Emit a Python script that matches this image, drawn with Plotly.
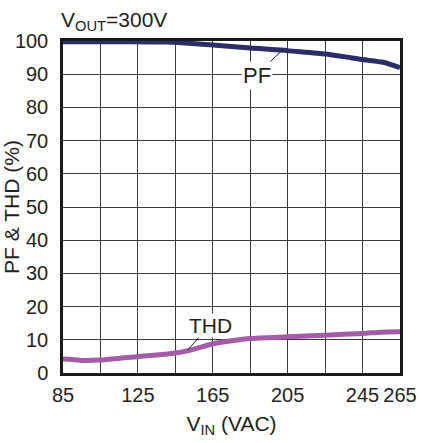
import plotly.graph_objects as go

vin_pf = [85, 100, 120, 140, 150, 165, 185, 202, 205, 225, 235, 245, 256, 265]
pf = [99.8, 99.8, 99.8, 99.7, 99.4, 98.8, 97.9, 97.3, 97.1, 96.1, 95.3, 94.4, 93.6, 92.0]

vin_thd = [85, 90, 95, 105, 115, 125, 135, 145, 150, 155, 160, 165, 175, 185, 205, 225, 245, 255, 265]
thd = [4.2, 4.1, 3.8, 3.9, 4.4, 5.0, 5.4, 6.0, 6.5, 7.2, 8.0, 8.8, 9.7, 10.4, 10.9, 11.4, 11.9, 12.3, 12.4]

x_ticks = [85, 125, 165, 205, 245, 265]
x_minor = [105, 145, 185, 225]
y_ticks = list(range(0, 101, 10))

FONT = "Liberation Sans, Arial, sans-serif"
TXT = "#231f20"
GRID = "#3a3a3a"

fig = go.Figure()
fig.add_trace(go.Scatter(x=vin_thd, y=thd, mode="lines",
                         line=dict(color="#a45ba8", width=5, shape="spline", smoothing=0.6),
                         hoverinfo="skip", showlegend=False))
fig.add_trace(go.Scatter(x=vin_pf, y=pf, mode="lines",
                         line=dict(color="#2b2d66", width=5, shape="spline", smoothing=0.6),
                         hoverinfo="skip", showlegend=False))

# leader lines
fig.add_shape(type="line", x0=192.9, y0=92.3, x1=202.5, y1=97.4, xref="x", yref="y",
              line=dict(color=TXT, width=1))
fig.add_shape(type="line", x0=151.8, y0=7.0, x1=159.8, y1=12.2, xref="x", yref="y",
              line=dict(color=TXT, width=1))

fig.add_annotation(x=188.7, y=89.6, xref="x", yref="y", text="PF", showarrow=False,
                   font=dict(family=FONT, size=22, color=TXT), bgcolor="white", borderpad=1)
fig.add_annotation(x=164, y=14.3, xref="x", yref="y", text="THD", showarrow=False,
                   font=dict(family=FONT, size=21, color=TXT), bgcolor="white", borderpad=0)

fig.add_annotation(x=0, y=1, xref="paper", yref="paper", xanchor="left", yanchor="bottom",
                   xshift=-4, yshift=5,
                   text="V<sub>OUT</sub>=300V", showarrow=False,
                   font=dict(family=FONT, size=21, color=TXT))

fig.update_layout(
    width=422, height=443,
    margin=dict(l=63, r=22, t=40.5, b=69.5, autoexpand=False),
    paper_bgcolor="white", plot_bgcolor="white",
    font=dict(family=FONT, size=19, color=TXT),
    xaxis=dict(range=[85, 265], tickmode="array", tickvals=x_ticks, automargin=False,
               showgrid=True, gridcolor=GRID, gridwidth=1.3,
               minor=dict(tickmode="array", tickvals=x_minor, showgrid=True,
                          gridcolor=GRID, gridwidth=1.3),
               showline=True, linecolor="#1a1a1a", linewidth=2.5, mirror=True,
               ticks="outside", ticklen=2, tickcolor="rgba(0,0,0,0)", zeroline=False,
               tickfont=dict(family=FONT, size=20, color=TXT),
               title=dict(text="V<sub>IN</sub> (VAC)", standoff=12,
                          font=dict(family=FONT, size=21, color=TXT))),
    yaxis=dict(range=[0, 100], tickmode="array", tickvals=y_ticks, automargin=False,
               showgrid=True, gridcolor=GRID, gridwidth=1.3,
               showline=True, linecolor="#1a1a1a", linewidth=2.5, mirror=True,
               ticks="outside", ticklen=8, tickcolor="rgba(0,0,0,0)", zeroline=False,
               tickfont=dict(family=FONT, size=20, color=TXT),
               title=dict(text="PF & THD (%)", standoff=0,
                          font=dict(family=FONT, size=21, color=TXT))),
)

fig.write_html("out.html")
